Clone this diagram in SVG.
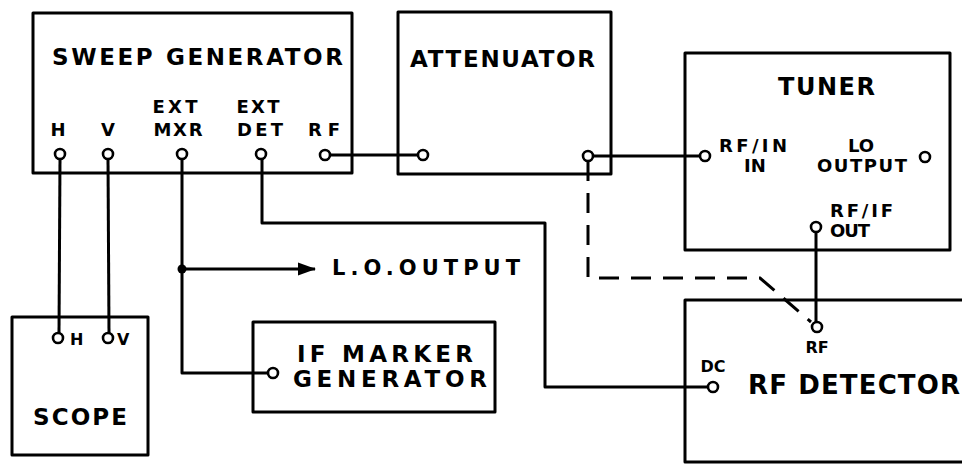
<svg xmlns="http://www.w3.org/2000/svg" width="962" height="464" viewBox="0 0 962 464">
<style>
.box{fill:none;stroke:#000;stroke-width:3;stroke-linejoin:round}
.wire{fill:none;stroke:#000;stroke-width:3;stroke-linejoin:round}
.dash{fill:none;stroke:#000;stroke-width:3;stroke-dasharray:20 12}
.port{fill:#fff;stroke:#000;stroke-width:2.6}
.t{font-family:"DejaVu Sans","Liberation Sans",Arial,sans-serif;font-weight:bold;fill:#000}
.big{font-size:23px}
.sm{font-size:18px}
.xs{font-size:16px}
</style>
<defs>
<marker id="arr" markerWidth="18" markerHeight="14" refX="17" refY="7" orient="auto" markerUnits="userSpaceOnUse">
<path d="M0,0.5 L18,7 L0,13.5 Z" fill="#000"/>
</marker>
</defs>
<rect width="962" height="464" fill="#fff"/>
<g id="connectors">
<path class="wire" d="M60,159 L59,333"/>
<path class="wire" d="M108,159 L109,333"/>
<path class="wire" d="M182,159 V373 H268"/>
<path class="wire" d="M182,269 H315" marker-end="url(#arr)"/>
<circle cx="182" cy="269" r="4.5" fill="#000"/>
<path class="wire" d="M262,159 V223 H545 V387 H708"/>
<path class="wire" d="M330,155 H418"/>
<path class="wire" d="M593,156 H700"/>
<path class="wire" d="M816,232 V322"/>
<path class="dash" d="M588,161 V278 H760 L811,322"/>
</g>
<g id="sweep-generator">
<rect class="box" x="33" y="13" width="319" height="160"/>
<text class="t big" x="52" y="65" textLength="291" lengthAdjust="spacing">SWEEP GENERATOR</text>
<text class="t sm" x="58" y="136" text-anchor="middle">H</text>
<text class="t sm" x="108" y="136" text-anchor="middle">V</text>
<text class="t sm" x="175" y="113" text-anchor="middle" textLength="45" lengthAdjust="spacing">EXT</text>
<text class="t sm" x="178" y="136" text-anchor="middle" textLength="49" lengthAdjust="spacing">MXR</text>
<text class="t sm" x="258" y="113" text-anchor="middle" textLength="43" lengthAdjust="spacing">EXT</text>
<text class="t sm" x="260" y="136" text-anchor="middle" textLength="46" lengthAdjust="spacing">DET</text>
<text class="t sm" x="324" y="136" text-anchor="middle" textLength="32" lengthAdjust="spacing">RF</text>
<circle class="port" cx="60" cy="154" r="5"/>
<circle class="port" cx="108" cy="154" r="5"/>
<circle class="port" cx="182" cy="154" r="5"/>
<circle class="port" cx="261" cy="154" r="5"/>
<circle class="port" cx="325" cy="155" r="5"/>
</g>
<g id="attenuator">
<rect class="box" x="398" y="12" width="213" height="162"/>
<text class="t big" x="410" y="67" textLength="185" lengthAdjust="spacing">ATTENUATOR</text>
<circle class="port" cx="423" cy="155" r="5"/>
<circle class="port" cx="588" cy="156" r="5"/>
</g>
<g id="tuner">
<rect class="box" x="685" y="53" width="265" height="197"/>
<text class="t" style="font-size:24px" x="778" y="95" textLength="97" lengthAdjust="spacing">TUNER</text>
<text class="t sm" x="719" y="152" textLength="68" lengthAdjust="spacing">RF/IN</text>
<text class="t sm" x="755" y="172" text-anchor="middle">IN</text>
<text class="t sm" x="861" y="152" text-anchor="middle">LO</text>
<text class="t sm" x="817" y="172" textLength="90" lengthAdjust="spacing">OUTPUT</text>
<text class="t sm" x="830" y="217" textLength="63" lengthAdjust="spacing">RF/IF</text>
<text class="t sm" x="830" y="237" textLength="40" lengthAdjust="spacing">OUT</text>
<circle class="port" cx="705" cy="156" r="5"/>
<circle class="port" cx="925" cy="157" r="5"/>
<circle class="port" cx="816" cy="227" r="5"/>
</g>
<g id="scope">
<rect class="box" x="12" y="317" width="136" height="138"/>
<text class="t xs" x="70" y="345">H</text>
<text class="t xs" x="117" y="345">V</text>
<text class="t big" x="33" y="425" textLength="94" lengthAdjust="spacing">SCOPE</text>
<circle class="port" cx="58" cy="338" r="5"/>
<circle class="port" cx="108" cy="338" r="5"/>
</g>
<g id="lo-output">
<text class="t" style="font-size:21px" x="332" y="275" textLength="188" lengthAdjust="spacing">L.O.OUTPUT</text>
</g>
<g id="if-marker-generator">
<rect class="box" x="253" y="322" width="242" height="90"/>
<text class="t big" x="297" y="362" textLength="176" lengthAdjust="spacing">IF MARKER</text>
<text class="t big" x="293" y="387" textLength="194" lengthAdjust="spacing">GENERATOR</text>
<circle class="port" cx="273" cy="373" r="5"/>
</g>
<g id="rf-detector">
<path class="box" d="M975,300 H685 V462 H975"/>
<text class="t xs" x="713" y="372" text-anchor="middle">DC</text>
<text class="t xs" x="817" y="353" text-anchor="middle">RF</text>
<text class="t" style="font-size:26px" x="748" y="394" textLength="212" lengthAdjust="spacing">RF DETECTOR</text>
<circle class="port" cx="713" cy="387" r="5"/>
<circle class="port" cx="817" cy="327" r="5"/>
</g>
</svg>
